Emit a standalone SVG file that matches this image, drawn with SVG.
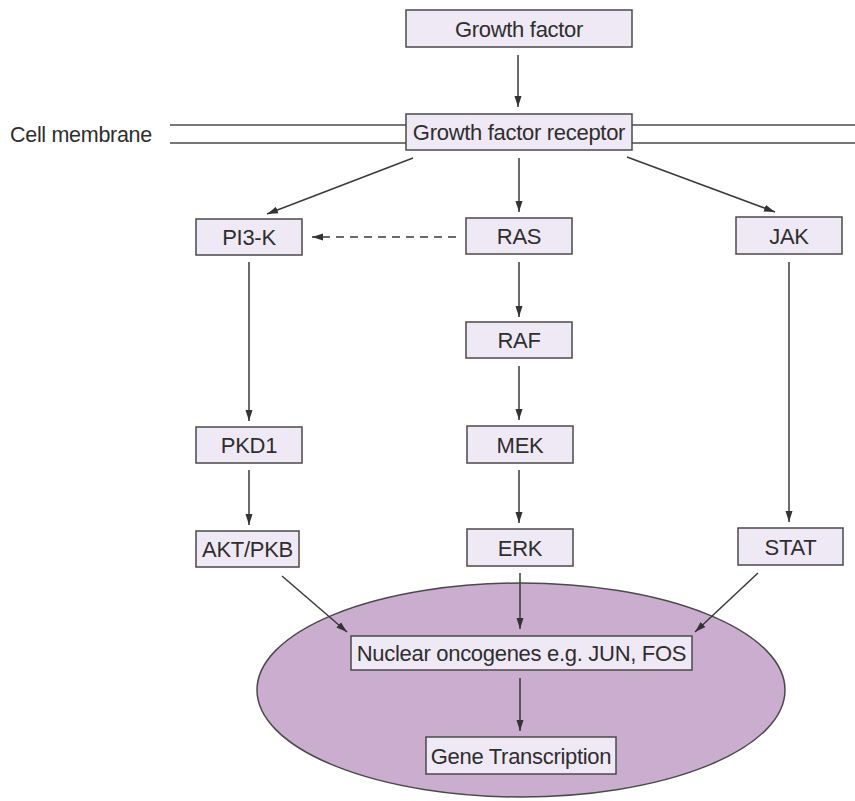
<svg xmlns="http://www.w3.org/2000/svg" width="855" height="801" viewBox="0 0 855 801">
<defs>
<marker id="ah" markerWidth="11" markerHeight="8" refX="11" refY="4" orient="auto" markerUnits="userSpaceOnUse">
<path d="M0,0.5 L11,4 L0,7.5 Z" fill="#333"/>
</marker>
<style>
.box{fill:#efe9f5;stroke:#4a4a4a;stroke-width:1.5}
.t{font-family:"Liberation Sans",Arial,sans-serif;font-size:22px;letter-spacing:-0.3px;fill:#2e2e2e;text-anchor:middle}
.c{stroke:#3a3a3a;stroke-width:1.5;fill:none;marker-end:url(#ah)}
.m{stroke:#4a4a4a;stroke-width:1.5}
</style>
</defs>
<rect width="855" height="801" fill="#ffffff"/>
<g id="nucleus"><ellipse cx="521" cy="690" rx="264" ry="107" fill="#cbadd0" stroke="#4a4a4a" stroke-width="1.5"/></g>
<g id="membrane">
<line class="m" x1="170" y1="125" x2="406" y2="125"/>
<line class="m" x1="170" y1="143" x2="406" y2="143"/>
<line class="m" x1="632" y1="125" x2="855" y2="125"/>
<line class="m" x1="632" y1="143" x2="855" y2="143"/>
<text x="10" y="142" style="font-family:'Liberation Sans',Arial,sans-serif;font-size:21.5px;letter-spacing:-0.3px;fill:#2e2e2e">Cell membrane</text>
</g>
<g id="connectors">
<line class="c" x1="518" y1="55" x2="518" y2="107"/>
<line class="c" x1="413" y1="158" x2="267" y2="214"/>
<line class="c" x1="519" y1="158" x2="519" y2="212"/>
<line class="c" x1="627" y1="157" x2="775" y2="212"/>
<line class="c" x1="456" y1="237" x2="312" y2="237" stroke-dasharray="8,6"/>
<line class="c" x1="249" y1="262" x2="249" y2="421"/>
<line class="c" x1="519" y1="262" x2="519" y2="317"/>
<line class="c" x1="789" y1="262" x2="789" y2="522"/>
<line class="c" x1="249" y1="470" x2="249" y2="525"/>
<line class="c" x1="519" y1="366" x2="519" y2="420"/>
<line class="c" x1="519" y1="470" x2="519" y2="523"/>
<line class="c" x1="282" y1="576" x2="347" y2="632"/>
<line class="c" x1="520" y1="573" x2="520" y2="629"/>
<line class="c" x1="758" y1="573" x2="695" y2="632"/>
<line class="c" x1="520" y1="678" x2="520" y2="731"/>
</g>
<g id="growth-factor"><rect class="box" x="406" y="10" width="226" height="37"/><text class="t" x="519" y="36.5">Growth factor</text></g>
<g id="receptor"><rect class="box" x="406" y="114" width="226" height="36"/><text class="t" x="519" y="140">Growth factor receptor</text></g>
<g id="pi3k"><rect class="box" x="196" y="219" width="106" height="36"/><text class="t" x="249" y="245">PI3-K</text></g>
<g id="ras"><rect class="box" x="466" y="218" width="106" height="36"/><text class="t" x="519" y="244">RAS</text></g>
<g id="jak"><rect class="box" x="736" y="217" width="106" height="37"/><text class="t" x="789" y="243.5">JAK</text></g>
<g id="raf"><rect class="box" x="466" y="322" width="106" height="36"/><text class="t" x="519" y="348">RAF</text></g>
<g id="pkd1"><rect class="box" x="196" y="427" width="106" height="36"/><text class="t" x="249" y="453">PKD1</text></g>
<g id="mek"><rect class="box" x="467" y="426" width="106" height="37"/><text class="t" x="520" y="452.5">MEK</text></g>
<g id="akt"><rect class="box" x="196" y="531" width="103" height="36"/><text class="t" x="247.5" y="557">AKT/PKB</text></g>
<g id="erk"><rect class="box" x="467" y="529" width="106" height="37"/><text class="t" x="520" y="555.5">ERK</text></g>
<g id="stat"><rect class="box" x="738" y="528" width="105" height="37"/><text class="t" x="790.5" y="554.5">STAT</text></g>
<g id="nuclear-oncogenes"><rect class="box" x="351" y="636" width="341" height="34"/><text class="t" x="521.5" y="661">Nuclear oncogenes e.g. JUN, FOS</text></g>
<g id="gene-transcription"><rect class="box" x="426" y="737" width="190" height="37"/><text class="t" x="521" y="763.5">Gene Transcription</text></g>
</svg>
